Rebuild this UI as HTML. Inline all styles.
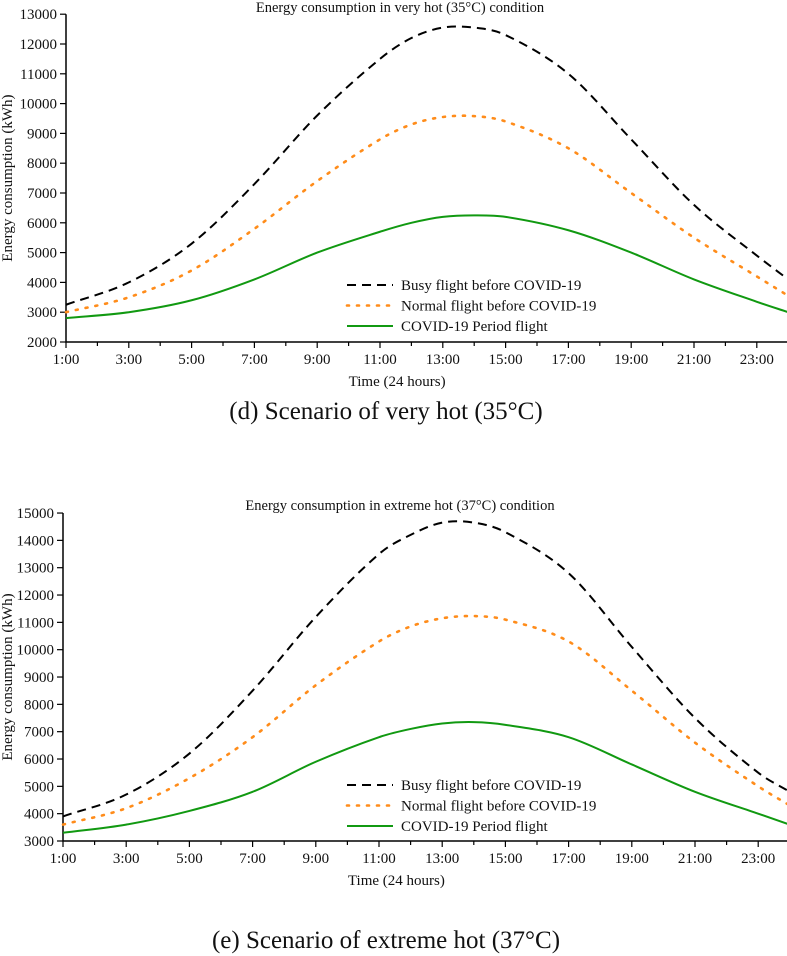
<!DOCTYPE html>
<html><head><meta charset="utf-8"><style>
body{margin:0;background:#fff;}
svg{display:block;font-family:"Liberation Serif",serif;}
</style></head><body>
<svg id="s" width="787" height="956" xmlns="http://www.w3.org/2000/svg"></svg>
<script>
const hours=[1,3,5,7,9,11,12,13,14,15,17,19,21,23,24];
const busyD=[3250,4000,5300,7300,9600,11500,12200,12550,12550,12300,11000,8800,6600,4900,4100];
const normD=[3000,3500,4400,5800,7400,8800,9300,9550,9580,9400,8500,7000,5500,4200,3550];
const covidD=[2800,3000,3400,4100,5000,5700,6000,6200,6250,6200,5750,5000,4100,3350,3000];
const busyE=[3900,4700,6200,8500,11200,13500,14200,14650,14650,14300,12800,10100,7500,5500,4800];
const normE=[3600,4200,5300,6800,8700,10300,10850,11150,11230,11100,10300,8500,6600,5000,4300];
const covidE=[3300,3600,4100,4800,5900,6800,7100,7300,7350,7250,6800,5800,4800,4000,3600];
const xTicks=["1:00","3:00","5:00","7:00","9:00","11:00","13:00","15:00","17:00","19:00","21:00","23:00"];
const legendNames=["Busy flight before COVID-19","Normal flight before COVID-19","COVID-19 Period flight"];
const NS="http://www.w3.org/2000/svg";
const svg=document.getElementById('s');
function el(t,a,p){const e=document.createElementNS(NS,t);for(const k in a)e.setAttribute(k,a[k]);(p||svg).appendChild(e);return e;}
function txt(x,y,s,size,anchor,p){const t=el('text',{x:x,y:y,'font-size':size,'text-anchor':anchor||'middle',fill:'#111'},p);t.textContent=s;return t;}
function smooth(pts){
 const n=pts.length,m=[];
 for(let i=0;i<n;i++){const a=pts[Math.max(0,i-1)],b=pts[Math.min(n-1,i+1)];m.push((b[1]-a[1])/(b[0]-a[0]));}
 let d='M'+pts[0][0]+','+pts[0][1];
 for(let i=0;i<n-1;i++){const p1=pts[i],p2=pts[i+1],dx=(p2[0]-p1[0])/3;
  d+=' C'+(p1[0]+dx)+','+(p1[1]+m[i]*dx)+' '+(p2[0]-dx)+','+(p2[1]-m[i+1]*dx)+' '+p2[0]+','+p2[1];}
 return d;}
function chart(cfg){
 const g=el('g',{});
 
 
 const X=h=>cfg.x0+(h-1)*cfg.hw;
 const Y=v=>cfg.yB-(v-cfg.vmin)/1000*cfg.step;
 const xEnd=X(24);
 const ax=el('path',{d:'M'+cfg.x0+','+Y(cfg.vmax)+' L'+cfg.x0+','+cfg.yB+' L'+xEnd+','+cfg.yB,stroke:'#000','stroke-width':1.5,fill:'none'},g);
 
 for(let v=cfg.vmin;v<=cfg.vmax;v+=1000){el('line',{x1:cfg.x0-6,x2:cfg.x0,y1:Y(v),y2:Y(v),stroke:'#000','stroke-width':1.2},g);
  const t=txt(cfg.x0-9,Y(v)+5,String(v),15,'end',g);}
 for(let h=1;h<=24;h++){el('line',{x1:X(h),x2:X(h),y1:cfg.yB,y2:cfg.yB+(h%2?6:4),stroke:'#000','stroke-width':1.2},g);}
 xTicks.forEach((s,i)=>{const t=txt(X(1+2*i),cfg.yB+22,s,15,'middle',g);});
 let t=txt(cfg.x0+(xEnd-cfg.x0)/2-30,cfg.yB+44,'Time (24 hours)',15,'middle',g);
 t=txt(0,0,'Energy consumption (kWh)',15,'middle',g);t.setAttribute('transform','translate(12,'+((Y(cfg.vmax)+cfg.yB)/2)+') rotate(-90)');
 t=txt(400,cfg.titleY,cfg.title,14.5,'middle',g);
 const styles=[{stroke:'#000','stroke-dasharray':'9,6'},{stroke:'#ff8c1a','stroke-dasharray':'2,8','stroke-linecap':'round','stroke-width':2.6},{stroke:'#119911'}];
 const names=['busy-line','normal-line','covid-line'];
 cfg.series.forEach((s,i)=>{const a=Object.assign({d:smooth(hours.map((h,j)=>[X(h),Y(s[j])])),fill:'none','stroke-width':2},styles[i]);
  const p=el('path',a,g);});
 legendNames.forEach((n,i)=>{const y=cfg.legY+i*20.5;
  const a=Object.assign({x1:347,x2:393,y1:y,y2:y,'stroke-width':2},styles[i]);el('line',a,g);
  const tt=txt(401,y+5,n,15,'start',g);});
 t=txt(386,cfg.capY,cfg.caption,25,'middle',g);
}
chart({name:'chart-very-hot',x0:66,hw:31.4,yB:342,step:29.8,vmin:2000,vmax:13000,title:'Energy consumption in very hot (35°C) condition',titleY:12,legY:285,capY:419,caption:'(d) Scenario of very hot (35°C)',series:[busyD,normD,covidD]});
chart({name:'chart-extreme-hot',x0:63,hw:31.6,yB:841,step:27.33,vmin:3000,vmax:15000,title:'Energy consumption in extreme hot (37°C) condition',titleY:510,legY:785,capY:948,caption:'(e) Scenario of extreme hot (37°C)',series:[busyE,normE,covidE]});
</script>
</body></html>
